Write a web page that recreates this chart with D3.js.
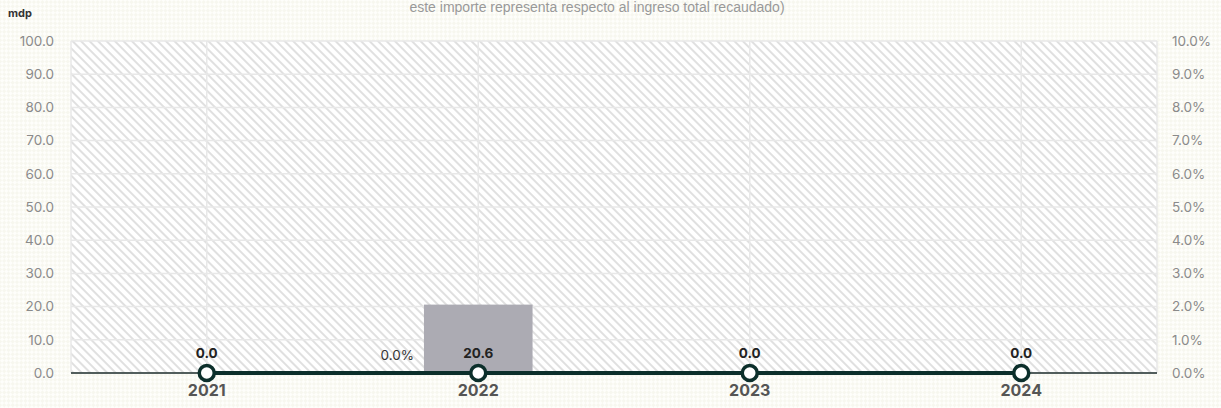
<!DOCTYPE html>
<html>
<head>
<meta charset="utf-8">
<script src="https://cdn.jsdelivr.net/npm/d3@7"></script>
<style>
  body { margin: 0; background: #fff; }
  svg { display: block; }
  .tick text { font-family: Inter, "Liberation Sans", sans-serif; }
</style>
</head>
<body>
<svg class="chart" width="1221" height="408"></svg>
<script>
// chart data
const years = ["2021", "2022", "2023", "2024"];
const montoMdp = [0.0, 20.6, 0.0, 0.0];        // bars (left axis, mdp)
const pctIngreso = [0.0, 0.0, 0.0, 0.0];        // line (right axis, %)
const leftTicks = [0, 10, 20, 30, 40, 50, 60, 70, 80, 90, 100];
const rightTicks = [0, 1, 2, 3, 4, 5, 6, 7, 8, 9, 10];
const subtitle = "este importe representa respecto al ingreso total recaudado)";

const W = 1221, H = 408;
const margin = {top: 41, right: 64, bottom: 35, left: 71};
const width = W - margin.left - margin.right;
const height = H - margin.top - margin.bottom;
const lineColor = "#0c2f2b";

const svg = d3.select(".chart");
const defs = svg.append("defs");

// page background: faint checker
const bg = defs.append("pattern")
    .attr("id", "bgpat")
    .attr("width", 6).attr("height", 6)
    .attr("patternUnits", "userSpaceOnUse")
    .attr("patternTransform", "rotate(45)");
bg.append("rect").attr("width", 6).attr("height", 6).attr("fill", "#fefefb");
bg.append("rect").attr("width", 3).attr("height", 3).attr("fill", "#f7f7ef");
bg.append("rect").attr("x", 3).attr("y", 3).attr("width", 3).attr("height", 3).attr("fill", "#f7f7ef");

// plot area: diagonal stripes (top-left to bottom-right)
const pl = defs.append("pattern")
    .attr("id", "plotpat")
    .attr("width", 6).attr("height", 6)
    .attr("patternUnits", "userSpaceOnUse")
    .attr("patternTransform", "rotate(-45)");
pl.append("rect").attr("width", 6).attr("height", 6).attr("fill", "#ffffff");
pl.append("rect").attr("width", 2).attr("height", 6).attr("fill", "#e0e0e0");

svg.append("rect").attr("width", W).attr("height", H).attr("fill", "url(#bgpat)");

// scales
const x = d3.scaleBand().domain(years).range([0, width]);
const yL = d3.scaleLinear().domain([0, 100]).range([height, 0]);
const yR = d3.scaleLinear().domain([0, 10]).range([height, 0]);

const g = svg.append("g").attr("transform", "translate(" + margin.left + "," + margin.top + ")");

g.append("rect")
    .attr("width", width).attr("height", height)
    .attr("fill", "url(#plotpat)");

// horizontal gridlines
g.append("g")
    .selectAll("line")
    .data(leftTicks)
    .join("line")
    .attr("x1", 0).attr("x2", width)
    .attr("y1", d => yL(d)).attr("y2", d => yL(d))
    .attr("stroke", "#e8e8e8").attr("stroke-width", 1.5);

// vertical gridlines at band centers and edges
const vx = [0].concat(years.map(d => x(d) + x.bandwidth() / 2)).concat([width]);
g.append("g")
    .selectAll("line")
    .data(vx)
    .join("line")
    .attr("x1", d => d).attr("x2", d => d)
    .attr("y1", 0).attr("y2", height)
    .attr("stroke", "#e8e8e8").attr("stroke-width", 1.5);

// bars
const barW = x.bandwidth() * 0.4;
g.selectAll(".bar")
    .data(years)
    .join("rect")
    .attr("class", "bar")
    .attr("x", d => x(d) + x.bandwidth() / 2 - barW / 2)
    .attr("width", barW)
    .attr("y", (d, i) => yL(montoMdp[i]))
    .attr("height", (d, i) => height - yL(montoMdp[i]))
    .attr("fill", "#acabb3");

// y axes
const leftAxis = g.append("g")
    .call(d3.axisLeft(yL).tickValues(leftTicks).tickFormat(d3.format(".1f")).tickSize(0).tickPadding(17));
leftAxis.select(".domain").remove();
leftAxis.selectAll("text").attr("fill", "#8a8a8a").style("font-size", "13.5px");

const rightAxis = g.append("g")
    .attr("transform", "translate(" + width + ",0)")
    .call(d3.axisRight(yR).tickValues(rightTicks).tickFormat(d => d.toFixed(1) + "%").tickSize(0).tickPadding(15));
rightAxis.select(".domain").remove();
rightAxis.selectAll("text").attr("fill", "#8a8a8a").style("font-size", "13.5px");

// x baseline
g.append("line")
    .attr("x1", 0).attr("x2", width)
    .attr("y1", height).attr("y2", height)
    .attr("stroke", "#1e2e2c").attr("stroke-width", 1.5);

// x axis labels
const xAxis = g.append("g")
    .attr("transform", "translate(0," + height + ")")
    .call(d3.axisBottom(x).tickSize(0).tickPadding(12));
xAxis.select(".domain").remove();
xAxis.selectAll("text")
    .attr("fill", "#555")
    .style("font-size", "16px")
    .style("font-weight", "bold");

// line series
const cx = d => x(d) + x.bandwidth() / 2;
const line = d3.line()
    .x((d, i) => cx(years[i]))
    .y(d => yR(d));
g.append("path")
    .datum(pctIngreso)
    .attr("d", line)
    .attr("fill", "none")
    .attr("stroke", lineColor)
    .attr("stroke-width", 4);

g.selectAll(".dot")
    .data(pctIngreso)
    .join("circle")
    .attr("class", "dot")
    .attr("cx", (d, i) => cx(years[i]))
    .attr("cy", d => yR(d))
    .attr("r", 7.5)
    .attr("fill", "#fff")
    .attr("stroke", lineColor)
    .attr("stroke-width", 3.5);

// bar value labels above points
g.selectAll(".vlabel")
    .data(montoMdp)
    .join("text")
    .attr("class", "vlabel")
    .attr("x", (d, i) => cx(years[i]))
    .attr("y", height - 15)
    .attr("text-anchor", "middle")
    .attr("fill", "#222")
    .style("font-family", "Inter, 'Liberation Sans', sans-serif")
    .style("font-size", "13.5px")
    .style("font-weight", "bold")
    .text(d => d.toFixed(1));

// percentage label (only shown on 2022)
g.append("text")
    .attr("x", cx("2022") - 81)
    .attr("y", height - 13)
    .attr("text-anchor", "middle")
    .attr("fill", "#333")
    .style("font-family", "Inter, 'Liberation Sans', sans-serif")
    .style("font-size", "13.5px")
    .text(pctIngreso[1].toFixed(1) + "%");

// unit label and subtitle
svg.append("text")
    .attr("x", 8).attr("y", 17)
    .attr("fill", "#333")
    .style("font-family", "Inter, 'Liberation Sans', sans-serif")
    .style("font-size", "11px")
    .style("font-weight", "bold")
    .text("mdp");

svg.append("text")
    .attr("x", 597).attr("y", 12)
    .attr("text-anchor", "middle")
    .attr("fill", "#999")
    .style("font-family", "'Liberation Sans', Arial, sans-serif")
    .style("font-size", "14px")
    .text(subtitle);
</script>
</body>
</html>
